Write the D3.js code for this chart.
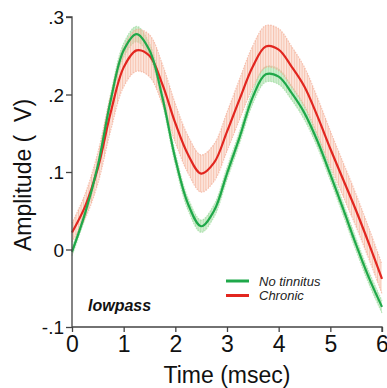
<!DOCTYPE html>
<html>
<head>
<meta charset="utf-8">
<script src="https://cdn.jsdelivr.net/npm/d3@7"></script>
<style>
  html, body { margin: 0; padding: 0; background: #fff; }
  svg { display: block; }
  text { font-family: "Liberation Sans", Arial, sans-serif; }
</style>
</head>
<body>
<div id="chart"></div>
<script>
// time points (msec)
const time = [0, 0.25, 0.5, 0.75, 1.0, 1.25, 1.5, 1.75, 2.0, 2.25, 2.5, 2.75, 3.0,
              3.25, 3.5, 3.75, 4.0, 4.25, 4.5, 4.75, 5.0, 5.25, 5.5, 5.75, 6.0];

// mean amplitude, no tinnitus group
const noTinnitus = [-0.003, 0.046, 0.108, 0.193, 0.257, 0.278, 0.257, 0.196, 0.117, 0.058, 0.030, 0.050, 0.098,
                    0.146, 0.197, 0.226, 0.223, 0.202, 0.176, 0.140, 0.097, 0.052, 0.006, -0.037, -0.074];
const noTinnitusErr = [0.005, 0.006, 0.007, 0.008, 0.009, 0.010, 0.009, 0.008, 0.008, 0.008, 0.008, 0.008, 0.008,
                       0.008, 0.009, 0.010, 0.010, 0.009, 0.009, 0.008, 0.008, 0.008, 0.008, 0.008, 0.008];

// mean amplitude, chronic group
const chronic = [0.022, 0.055, 0.105, 0.177, 0.235, 0.257, 0.250, 0.213, 0.163, 0.122, 0.098, 0.112, 0.152,
                 0.195, 0.236, 0.262, 0.258, 0.236, 0.210, 0.172, 0.130, 0.090, 0.050, 0.007, -0.038];
const chronicErr = [0.012, 0.016, 0.020, 0.023, 0.025, 0.027, 0.027, 0.026, 0.025, 0.024, 0.024, 0.024, 0.025,
                    0.026, 0.027, 0.027, 0.027, 0.026, 0.025, 0.024, 0.023, 0.022, 0.021, 0.020, 0.019];

const yTicks = [-0.1, 0, 0.1, 0.2, 0.3];
const yTickLabels = ["-.1", "0", ".1", ".2", ".3"];
const xTicks = [0, 1, 2, 3, 4, 5, 6];

const series = [
  { name: "No tinnitus", values: noTinnitus, err: noTinnitusErr, color: "#1fa84a", band: "#8fd88f", bar: "#9ad99a" },
  { name: "Chronic", values: chronic, err: chronicErr, color: "#e2261f", band: "#f7c4b0", bar: "#f2a48a" }
];

const width = 387, height = 388;
const margin = { left: 72, right: 5, top: 17, bottom: 61 };

const svg = d3.select("#chart").append("svg")
  .attr("width", width)
  .attr("height", height);

const x = d3.scaleLinear().domain([0, 6]).range([margin.left, width - margin.right]);
const y = d3.scaleLinear().domain([-0.1, 0.3]).range([height - margin.bottom, margin.top]);

// vertical hatch used to mimic the dense error bars
const defs = svg.append("defs");
series.forEach((s, i) => {
  const p = defs.append("pattern")
    .attr("id", "hatch" + i)
    .attr("patternUnits", "userSpaceOnUse")
    .attr("width", 2.6).attr("height", 4);
  p.append("rect").attr("width", 2.6).attr("height", 4).attr("fill", s.band).attr("fill-opacity", 0.4);
  p.append("line").attr("x1", 0.6).attr("x2", 0.6).attr("y1", 0).attr("y2", 4)
    .attr("stroke", s.bar).attr("stroke-width", 0.8).attr("stroke-opacity", 0.8);
});

const curve = d3.curveCatmullRom.alpha(0.5);

const area = (s) => d3.area()
  .x((d, i) => x(time[i]))
  .y0((d, i) => y(d - s.err[i]))
  .y1((d, i) => y(d + s.err[i]))
  .curve(curve);

const line = d3.line()
  .x((d, i) => x(time[i]))
  .y(d => y(d))
  .curve(curve);

// bands
series.forEach((s, i) => {
  svg.append("path")
    .attr("d", area(s)(s.values))
    .attr("fill", `url(#hatch${i})`);
  // light edges of the error bars
  [1, -1].forEach(sign => {
    svg.append("path")
      .attr("d", d3.line()
        .x((d, j) => x(time[j]))
        .y((d, j) => y(d + sign * s.err[j]))
        .curve(curve)(s.values))
      .attr("fill", "none")
      .attr("stroke", s.bar)
      .attr("stroke-width", 1.2)
      .attr("stroke-opacity", 0.6)
      .attr("stroke-dasharray", "1.5,1.2");
  });
});

// mean lines: red under green
[1, 0].forEach(i => {
  const s = series[i];
  svg.append("path")
    .attr("d", line(s.values))
    .attr("fill", "none")
    .attr("stroke", s.color)
    .attr("stroke-width", 2.2);
});

// axes
const axisColor = "#444";
const yAxis = svg.append("g")
  .attr("transform", `translate(${margin.left},0)`)
  .call(d3.axisLeft(y).tickValues(yTicks).tickSize(6)
    .tickFormat((d, i) => yTickLabels[i]));
yAxis.select(".domain").attr("stroke", axisColor).attr("stroke-width", 1.3).attr("d", `M-6,${y(0.3)}H0V${y(-0.1)}`);
yAxis.selectAll(".tick line").attr("stroke", axisColor).attr("stroke-width", 1.3);
yAxis.selectAll(".tick text")
  .attr("x", -8)
  .attr("dy", "0.36em")
  .attr("fill", "#111")
  .style("font-size", "19px")
  .style("font-family", "'Liberation Sans', Arial, sans-serif");

const xAxis = svg.append("g")
  .attr("transform", `translate(0,${height - margin.bottom})`)
  .call(d3.axisBottom(x).tickValues(xTicks).tickSize(5).tickFormat(d3.format("d")));
xAxis.select(".domain").attr("stroke", axisColor).attr("stroke-width", 1.3).attr("d", `M${x(0)},0H${x(6)}V5`);
xAxis.selectAll(".tick line").attr("stroke", axisColor).attr("stroke-width", 1.3);
xAxis.selectAll(".tick text")
  .attr("y", 9)
  .attr("fill", "#111")
  .style("font-size", "23px")
  .style("font-family", "'Liberation Sans', Arial, sans-serif");

// titles
svg.append("text")
  .attr("x", (x(0) + x(6)) / 2)
  .attr("y", 383)
  .attr("text-anchor", "middle")
  .attr("fill", "#111")
  .style("font-size", "23px")
  .text("Time (msec)");

svg.append("text")
  .attr("transform", `translate(31,175) rotate(-90)`)
  .attr("text-anchor", "middle")
  .attr("fill", "#111")
  .style("font-size", "23px")
  .style("white-space", "pre")
  .text("Amplitude (  V)");

svg.append("text")
  .attr("x", 88)
  .attr("y", 311)
  .attr("fill", "#111")
  .style("font-size", "16px")
  .style("font-weight", "bold")
  .style("font-style", "italic")
  .text("lowpass");

// legend
const legend = svg.append("g").attr("transform", "translate(226,281)");
series.forEach((s, i) => {
  const g = legend.append("g").attr("transform", `translate(0,${i * 14.5})`);
  g.append("line").attr("x1", 0).attr("x2", 23).attr("y1", 0).attr("y2", 0)
    .attr("stroke", s.color).attr("stroke-width", 3);
  g.append("text").attr("x", 33).attr("y", 4.5)
    .attr("fill", "#222")
    .style("font-size", "13px")
    .style("font-style", "italic")
    .text(s.name);
});
</script>
</body>
</html>
